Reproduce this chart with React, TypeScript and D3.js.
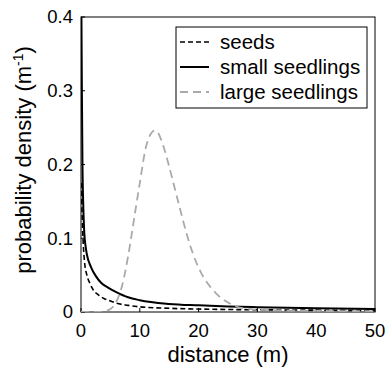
import React from "react";
import * as d3 from "d3";

// seeds (black dashed)
const seedX = [0.05, 0.2, 0.4, 0.6, 1, 1.5, 2, 3, 4, 5, 6, 8, 10, 15, 20, 30, 40, 50];
const seedY = [0.175, 0.13, 0.09, 0.068, 0.05, 0.039, 0.031, 0.023, 0.018, 0.015, 0.012, 0.009, 0.007, 0.005, 0.004, 0.003, 0.0025, 0.002];

// small seedlings (black solid)
const smallX = [0.06, 0.15, 0.25, 0.4, 0.56, 0.8, 1, 1.7, 2.5, 3.5, 4.6, 6, 8, 10, 15, 20, 25, 30, 40, 50];
const smallY = [0.42, 0.3, 0.2, 0.14, 0.107, 0.088, 0.078, 0.061, 0.049, 0.039, 0.033, 0.027, 0.02, 0.016, 0.011, 0.009, 0.0075, 0.0065, 0.005, 0.004];

// large seedlings (grey dashed)
const largeX = [0, 3, 4, 5, 6, 7, 8, 9, 10, 11, 12, 12.5, 13, 14, 15, 16, 17, 18, 19, 20, 21, 22, 23, 24, 25, 26, 27, 28, 30, 35, 40, 50];
const largeY = [0, 0, 0.001, 0.004, 0.014, 0.036, 0.075, 0.125, 0.175, 0.222, 0.243, 0.246, 0.244, 0.225, 0.197, 0.166, 0.135, 0.105, 0.08, 0.06, 0.045, 0.034, 0.025, 0.018, 0.013, 0.009, 0.006, 0.005, 0.003, 0.002, 0.0015, 0.001];

const xTicks = [0, 10, 20, 30, 40, 50];
const yTicks = [0, 0.1, 0.2, 0.3, 0.4];
const legendLabels = ["seeds", "small seedlings", "large seedlings"];

const font = "'Liberation Sans', Arial, sans-serif";

const App = () => {
  const width = 386;
  const height = 369;
  const m = { left: 81, top: 17, right: 11, bottom: 57 };
  const innerW = width - m.left - m.right;
  const innerH = height - m.top - m.bottom;

  const x = d3.scaleLinear().domain([0, 50]).range([0, innerW]);
  const y = d3.scaleLinear().domain([0, 0.4]).range([innerH, 0]);

  const line = d3
    .line<[number, number]>()
    .x(d => x(d[0]))
    .y(d => y(d[1]))
    .curve(d3.curveMonotoneX);

  const series = [
    { pts: seedX.map((v, i) => [v, seedY[i]] as [number, number]), stroke: "#000", width: 1.6, dash: "5,3" },
    { pts: smallX.map((v, i) => [v, smallY[i]] as [number, number]), stroke: "#000", width: 2, dash: "none" },
    { pts: largeX.map((v, i) => [v, largeY[i]] as [number, number]), stroke: "#aaa", width: 1.8, dash: "8,5" },
  ];

  const legX = 176 - m.left;
  const legY = 27 - m.top;

  return (
    <svg width={width} height={height} style={{ position: "absolute", left: 0, top: 0 }} fontFamily={font}>
      <defs>
        <clipPath id="plot">
          <rect x={0} y={0} width={innerW} height={innerH} />
        </clipPath>
      </defs>
      <g transform={`translate(${m.left},${m.top})`}>
        <rect x={0} y={0} width={innerW} height={innerH} fill="none" stroke="#000" strokeWidth={1} />
        {yTicks.map(t => (
          <g key={"y" + t}>
            <line x1={0} x2={4} y1={y(t)} y2={y(t)} stroke="#000" />
            <text x={-8} y={y(t)} dy="0.35em" textAnchor="end" fontSize={18.5}>
              {t}
            </text>
          </g>
        ))}
        {xTicks.map(t => (
          <g key={"x" + t}>
            <line x1={x(t)} x2={x(t)} y1={innerH} y2={innerH - 4} stroke="#000" />
            <text x={x(t)} y={innerH + 25} textAnchor="middle" fontSize={18.5}>
              {t}
            </text>
          </g>
        ))}
        <g clipPath="url(#plot)">
          {series.map((s, i) => (
            <path key={i} d={line(s.pts) || ""} fill="none" stroke={s.stroke} strokeWidth={s.width} strokeDasharray={s.dash} />
          ))}
        </g>
        <g transform={`translate(${legX},${legY})`}>
          <rect x={0} y={0} width={191} height={81} fill="#fff" stroke="#000" strokeWidth={1} />
          {legendLabels.map((lab, i) => (
            <g key={lab} transform={`translate(0,${15 + i * 25})`}>
              <line x1={4} x2={33} y1={0} y2={0} stroke={series[i].stroke} strokeWidth={series[i].width} strokeDasharray={series[i].dash} />
              <text x={44} y={0} dy="0.35em" fontSize={20.5}>
                {lab}
              </text>
            </g>
          ))}
        </g>
        <text x={innerW / 2} y={innerH + 50} textAnchor="middle" fontSize={22}>
          distance (m)
        </text>
        <text transform={`translate(${23 - m.left + 8},${160 - m.top}) rotate(-90)`} textAnchor="middle" fontSize={22}>
          probability density (m
          <tspan fontSize={14} dy={-8}>-1</tspan>
          <tspan dy={8}>)</tspan>
        </text>
      </g>
    </svg>
  );
};

export default App;
